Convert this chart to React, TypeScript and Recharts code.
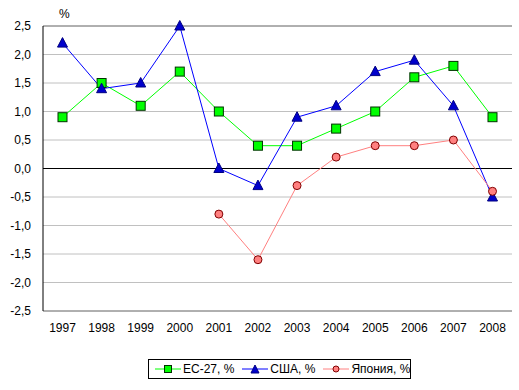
import React from "react"
import { LineChart, Line, XAxis, YAxis, CartesianGrid, ReferenceLine } from "recharts"

const years = ["1997", "1998", "1999", "2000", "2001", "2002", "2003", "2004", "2005", "2006", "2007", "2008"]
const eu = [0.9, 1.5, 1.1, 1.7, 1.0, 0.4, 0.4, 0.7, 1.0, 1.6, 1.8, 0.9]
const usa = [2.2, 1.4, 1.5, 2.5, 0.0, -0.3, 0.9, 1.1, 1.7, 1.9, 1.1, -0.5]
const japan = [null, null, null, null, -0.8, -1.6, -0.3, 0.2, 0.4, 0.4, 0.5, -0.4]
const yTicks = [-2.5, -2, -1.5, -1, -0.5, 0, 0.5, 1, 1.5, 2, 2.5]

const data = years.map((year, i) => ({ year, eu: eu[i], usa: usa[i], japan: japan[i] }))

const font = "'Liberation Sans', Arial, sans-serif"

function SquareDot(props: any) {
  const { cx, cy, index } = props
  if (cx == null || cy == null) return <g key={index} />
  return <rect key={index} x={cx - 4.5} y={cy - 4.5} width={9} height={9} fill="#00ff00" stroke="#003300" strokeWidth={1} />
}

function TriangleDot(props: any) {
  const { cx, cy, index } = props
  if (cx == null || cy == null) return <g key={index} />
  return (
    <polygon
      key={index}
      points={`${cx},${cy - 5.5} ${cx - 5},${cy + 4} ${cx + 5},${cy + 4}`}
      fill="#0000cc"
      stroke="#000080"
      strokeWidth={1}
    />
  )
}

function CircleDot(props: any) {
  const { cx, cy, index, value } = props
  if (cx == null || cy == null || value == null) return <g key={index} />
  return <circle key={index} cx={cx} cy={cy} r={4} fill="#ff8080" stroke="#800000" strokeWidth={1} />
}

function LegendBox() {
  const item = (label: string, color: string, marker: React.ReactNode, gap: number) => (
    <div style={{ display: "flex", alignItems: "center", marginRight: gap, whiteSpace: "nowrap" }}>
      <svg width={26} height={12}>
        <line x1={0} y1={6} x2={26} y2={6} stroke={color} strokeWidth={1} />
        {marker}
      </svg>
      <span style={{ marginLeft: 2 }}>{label}</span>
    </div>
  )
  return (
    <div
      style={{
        position: "absolute",
        left: 148,
        top: 359,
        width: 263,
        height: 20,
        border: "1px solid #000",
        display: "flex",
        alignItems: "center",
        paddingLeft: 6,
        fontFamily: font,
        fontSize: 12,
        boxSizing: "border-box",
        background: "#fff",
        overflow: "hidden",
      }}
    >
      {item("ЕС-27, %", "#00ff00", <rect x={9.5} y={2.5} width={7} height={7} fill="#00ff00" stroke="#003300" />, 8)}
      {item("США, %", "#0000ff", <polygon points="13,2 9,10 17,10" fill="#0000cc" stroke="#000080" />, 8)}
      {item("Япония, %", "#ff8080", <circle cx={13} cy={6} r={3} fill="#ff8080" stroke="#800000" />, 0)}
    </div>
  )
}

export default function App() {
  return (
    <div style={{ position: "absolute", left: 0, top: 0, width: 519, height: 390, background: "#fff" }}>
      <div style={{ position: "absolute", left: 59, top: 7, fontFamily: font, fontSize: 12 }}>%</div>
      <LineChart width={519} height={390} data={data} margin={{ top: 26, right: 7, bottom: 49, left: 0 }}>
        <CartesianGrid vertical={false} stroke="#c0c0c0" />
        <XAxis
          dataKey="year"
          height={30}
          padding={{ left: 19.5, right: 19.5 }}
          axisLine={{ stroke: "#808080" }}
          tickLine={false}
          tickSize={10}
          tickMargin={2}
          interval={0}
          tick={{ fill: "#000", fontSize: 12, fontFamily: font }}
        />
        <YAxis
          width={43}
          domain={[-2.5, 2.5]}
          ticks={yTicks}
          interval={0}
          axisLine={{ stroke: "#000" }}
          tickLine={false}
          tickSize={10}
          tickMargin={2}
          tickFormatter={(v: number) => v.toFixed(1).replace(".", ",")}
          tick={{ fill: "#000", fontSize: 12, fontFamily: font }}
        />
        <YAxis yAxisId="right" orientation="right" width={0} tick={false} axisLine={{ stroke: "#808080" }} tickLine={false} />
        <ReferenceLine y={2.5} stroke="#808080" />
        <ReferenceLine y={0} stroke="#000" />
        <Line dataKey="eu" stroke="#00ff00" strokeWidth={1} dot={<SquareDot />} isAnimationActive={false} />
        <Line dataKey="usa" stroke="#0000ff" strokeWidth={1} dot={<TriangleDot />} isAnimationActive={false} />
        <Line dataKey="japan" stroke="#ff8080" strokeWidth={1} dot={<CircleDot />} isAnimationActive={false} />
      </LineChart>
      <LegendBox />
    </div>
  )
}
